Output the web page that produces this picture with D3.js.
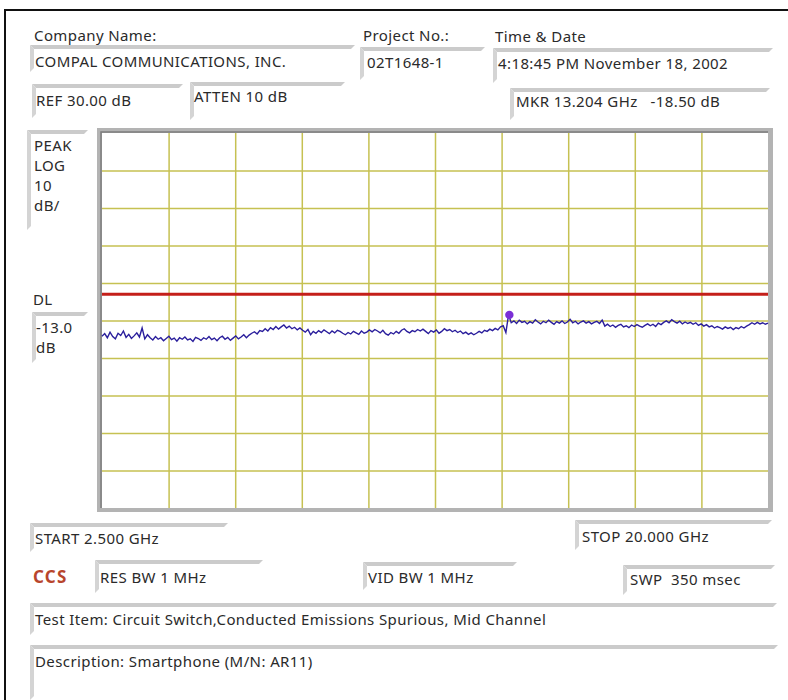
<!DOCTYPE html>
<html>
<head>
<meta charset="utf-8">
<script src="https://cdn.jsdelivr.net/npm/d3@7"></script>
<style>
  body { margin: 0; background: #fff; }
  svg text { font-family: "Noto Sans", "DejaVu Sans", sans-serif; font-size: 15px; letter-spacing: 0.4px; fill: #2a2a2a; }
</style>
</head>
<body>
<div id="chart"></div>
<script>
// analyzer settings
const refLevel = 30;
const dbPerDiv = 10;
const divisions = 10;
const startGHz = 2.5;
const stopGHz = 20;
const displayLine = -13.0;
const markerGHz = 13.204;
const markerDb = -18.50;

// trace, evenly spaced sweep points (dB)
const traceDb = [
  -24.2, -23.5, -24.6, -23.1, -24.3, -24.9, -23.4, -24.0, -22.8, -24.5,
  -23.7, -24.8, -24.1, -23.3, -24.4, -22.0, -24.9, -23.8, -24.6, -25.2,
  -24.3, -25.0, -24.6, -25.4, -24.8, -24.2, -25.1, -24.7, -25.5, -24.6,
  -25.0, -24.4, -25.2, -24.9, -25.6, -24.5, -24.8, -25.3, -24.6, -25.0,
  -24.3, -25.1, -24.7, -25.4, -24.6, -24.2, -25.0, -24.5, -25.3, -24.7,
  -24.1, -24.9, -24.4, -23.8, -24.6, -23.9, -23.4, -23.0, -23.6, -22.7,
  -22.9, -22.2, -22.8, -21.9, -22.4, -21.6, -22.3, -21.7, -21.2, -22.0,
  -21.5, -22.2, -21.8, -22.5, -22.0, -22.6, -23.1, -22.4, -23.8, -22.9,
  -23.4, -22.7, -23.2, -22.5, -23.0, -23.5, -22.8, -23.3, -22.6, -22.9,
  -23.4, -23.8, -23.2, -23.6, -22.9, -23.3, -23.7, -22.8, -23.4, -23.1,
  -22.5, -23.0, -22.4, -22.8, -23.3, -22.6, -23.5, -23.9, -23.2, -23.6,
  -22.9, -23.4, -22.6, -22.2, -22.9, -23.3, -22.7, -23.0, -22.4, -22.8,
  -22.3, -22.9, -23.5, -22.7, -23.1, -22.5, -23.4, -22.9, -22.2, -22.7,
  -22.4, -23.0, -22.6, -23.2, -22.8, -23.5, -23.1, -23.7, -23.3, -23.8,
  -23.4, -22.9, -23.3, -22.6, -22.9, -22.3, -22.7, -22.1, -22.5, -21.7,
  -21.4, -23.2, -18.5, -20.6, -20.1, -20.8, -19.9, -20.5, -20.2, -20.9,
  -20.3, -20.7, -19.8, -20.4, -20.9, -20.2, -20.6, -19.9, -20.5, -21.0,
  -20.3, -20.7, -20.1, -20.8, -20.4, -19.7, -20.6, -20.2, -20.9, -20.4,
  -20.1, -20.7, -20.3, -20.9, -20.5, -20.2, -20.8, -19.9, -21.5, -21.0,
  -21.6, -21.2, -21.8, -21.3, -21.0, -21.7, -21.4, -21.9, -21.2, -21.6,
  -21.1, -21.5, -21.8, -21.3, -20.9, -21.4, -21.0, -21.6, -20.7, -21.1,
  -20.5, -20.1, -20.6, -19.8, -20.3, -20.7, -20.2, -20.9, -20.4, -20.8,
  -20.5, -21.0, -20.6, -21.3, -20.9, -21.5, -21.1, -21.7, -21.4, -22.0,
  -21.6, -21.9, -22.3, -21.7, -22.1, -21.8, -22.4, -21.9, -22.2, -21.6,
  -22.0, -21.5, -21.1, -20.6, -21.0, -20.5, -20.9, -20.6, -21.0, -20.7
];

// header / footer texts
const companyName = "COMPAL COMMUNICATIONS, INC.";
const projectNo = "02T1648-1";
const timeDate = "4:18:45 PM November 18, 2002";
const testItem = "Test Item: Circuit Switch,Conducted Emissions Spurious, Mid Channel";
const description = "Description: Smartphone (M/N: AR11)";
const scaleLabel = ["PEAK", "LOG", "10", "dB/"];

const width = 788, height = 700;
const svg = d3.select("#chart").append("svg")
    .attr("width", width)
    .attr("height", height)

// outer frame
svg.append("path")
    .attr("d", "M5,700V10H788")
    .attr("fill", "none")
    .attr("stroke", "#111")
    .attr("stroke-width", 2)

// sunken windows-style box: grey bevel on top and left
function box(x0, y0, x1, y1) {
    const b = 4;
    const g = svg.append("g");
    g.append("polygon")
        .attr("points", [[x0, y0], [x1, y0], [x1 - b, y0 + b], [x0 + b, y0 + b]].join(" "))
        .attr("fill", "#cbcbcb")
    g.append("polygon")
        .attr("points", [[x0, y0], [x0 + b, y0 + b], [x0 + b, y1 - b], [x0, y1]].join(" "))
        .attr("fill", "#d4d4d4")
}

function label(x, y, t) {
    return svg.append("text").attr("x", x).attr("y", y).text(t);
}

box(30, 45, 355, 72);
box(360, 47, 485, 80);
box(493, 48, 773, 83);
box(32, 84, 183, 118);
box(190, 82, 345, 120);
box(510, 88, 770, 120);
box(27, 130, 88, 230);
box(32, 312, 88, 363);
box(30, 523, 228, 552);
box(95, 560, 263, 593);
box(363, 562, 517, 590);
box(575, 520, 772, 550);
box(623, 565, 775, 595);
box(30, 603, 777, 635);
box(30, 645, 778, 700);

label(34, 41, "Company Name:");
label(363, 41, "Project No.:");
label(495, 42, "Time & Date");
label(35, 67, companyName);
label(367, 68, projectNo);
label(498, 69, timeDate);
label(36, 106, "REF " + refLevel.toFixed(2) + " dB");
label(194, 102, "ATTEN 10 dB");
label(516, 107, "MKR " + markerGHz.toFixed(3) + " GHz\u00a0\u00a0 " + markerDb.toFixed(2) + " dB");

scaleLabel.forEach((t, i) => label(34, 151 + i * 20, t));
label(33, 305, "DL");
label(36, 333, displayLine.toFixed(1));
label(36, 353, "dB");

label(35, 544, "START " + startGHz.toFixed(3) + " GHz");
label(582, 542, "STOP " + stopGHz.toFixed(3) + " GHz");
svg.append("text")
    .attr("x", 33).attr("y", 583)
    .style("font-weight", "bold")
    .style("font-size", "17px")
    .style("letter-spacing", "1.2px")
    .style("fill", "#b8452c")
    .text("CCS")
label(100, 583, "RES BW 1 MHz");
label(368, 583, "VID BW 1 MHz");
label(630, 585, "SWP\u00a0 350 msec");
label(35, 625, testItem);
label(35, 667, description);

// plot area
const plotLeft = 102, plotTop = 133, plotRight = 768, plotBottom = 508;

svg.append("rect")
    .attr("x", plotLeft - 5).attr("y", plotTop - 5)
    .attr("width", plotRight - plotLeft + 10).attr("height", plotBottom - plotTop + 9)
    .attr("fill", "#b3b3b3")
svg.append("path")
    .attr("d", `M${plotLeft - 1},${plotBottom}V${plotTop - 1}H${plotRight}`)
    .attr("fill", "none")
    .attr("stroke", "#7d7d7d")
    .attr("stroke-width", 1.5)
svg.append("rect")
    .attr("x", plotLeft).attr("y", plotTop)
    .attr("width", plotRight - plotLeft).attr("height", plotBottom - plotTop)
    .attr("fill", "#fff")

const x = d3.scaleLinear().domain([startGHz, stopGHz]).range([plotLeft, plotRight]);
const y = d3.scaleLinear().domain([refLevel - dbPerDiv * divisions, refLevel]).range([plotBottom, plotTop]);

const xGrid = d3.range(1, divisions).map(i => startGHz + i * (stopGHz - startGHz) / divisions);
const yGrid = d3.range(1, divisions).map(i => refLevel - i * dbPerDiv);

const gridColor = "#c6c152";

svg.append("g")
    .attr("transform", `translate(0,${plotBottom})`)
    .call(d3.axisBottom(x).tickValues(xGrid).tickSize(-(plotBottom - plotTop)).tickFormat(""))
    .call(g => g.select(".domain").remove())
    .call(g => g.selectAll("line").attr("stroke", gridColor).attr("stroke-width", 1.5))

svg.append("g")
    .attr("transform", `translate(${plotLeft},0)`)
    .call(d3.axisLeft(y).tickValues(yGrid).tickSize(-(plotRight - plotLeft)).tickFormat(""))
    .call(g => g.select(".domain").remove())
    .call(g => g.selectAll("line").attr("stroke", gridColor).attr("stroke-width", 1.5))

// display line
svg.append("line")
    .attr("x1", plotLeft).attr("x2", plotRight)
    .attr("y1", y(displayLine)).attr("y2", y(displayLine))
    .attr("stroke", "#c41f1a")
    .attr("stroke-width", 3)

// trace
const idx = d3.scaleLinear().domain([0, traceDb.length - 1]).range([startGHz, stopGHz]);
const line = d3.line()
    .x((d, i) => x(idx(i)))
    .y(d => y(d))

svg.append("path")
    .datum(traceDb)
    .attr("d", line)
    .attr("fill", "none")
    .attr("stroke", "#2a1e9c")
    .attr("stroke-width", 1.4)

// marker
svg.append("circle")
    .attr("cx", x(markerGHz))
    .attr("cy", y(markerDb))
    .attr("r", 4.2)
    .attr("fill", "#7b2fd6")
</script>
</body>
</html>
